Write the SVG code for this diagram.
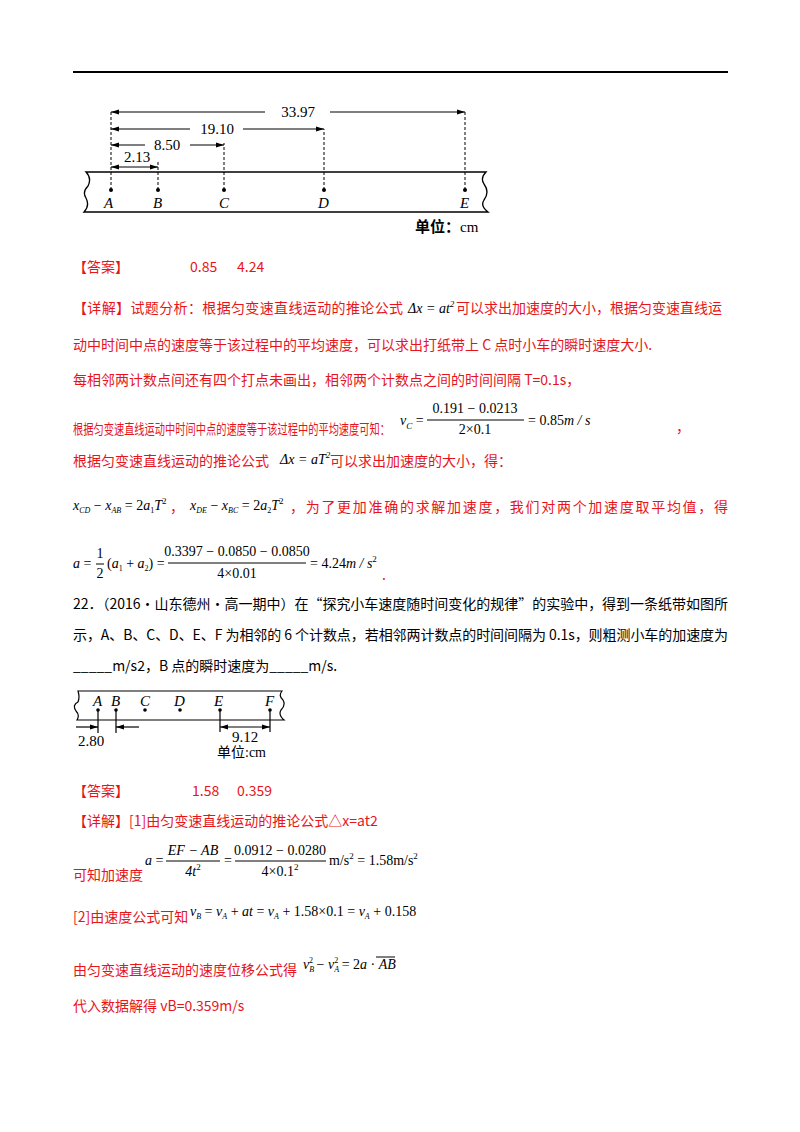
<svg xmlns="http://www.w3.org/2000/svg" width="800" height="1132" viewBox="0 0 800 1132">
<defs>
<marker id="ar" viewBox="0 0 10 10" refX="10" refY="5" markerWidth="7" markerHeight="7" orient="auto-start-reverse"><path d="M0,2 L10,5 L0,8 z" fill="#000"/></marker>
<style>
.r{fill:#e8141b;font-family:"Noto Sans CJK SC","Noto Sans",sans-serif;font-size:14px}
.m{fill:#000;font-family:"Liberation Serif",serif;font-size:14px}
.mi{fill:#000;font-family:"Liberation Serif",serif;font-size:14px;font-style:italic}
.k{fill:#000;font-family:"Noto Sans CJK SC",sans-serif;font-size:14px}
.dim{stroke:#000;stroke-width:1.2;fill:none}
.dash{stroke:#000;stroke-width:1;stroke-dasharray:3,2;fill:none}
.lab{font-family:"Liberation Serif",serif;font-size:15px;font-style:italic}
.num{font-family:"Liberation Serif",serif;font-size:15px}
</style>
</defs>
<rect width="800" height="1132" fill="#fff"/>
<line x1="73" y1="72" x2="728" y2="72" stroke="#000" stroke-width="2"/>

<g id="tape1">
<path d="M86,172 H486 Q480,178 484,184 Q490,192 484,200 Q480,206 488,212 H84 Q90,206 86,198 Q82,192 88,186 Q92,178 86,172 Z" fill="#fff" stroke="#000" stroke-width="1.3"/>
<g fill="#000"><circle cx="111" cy="190" r="2"/><circle cx="158" cy="190" r="2"/><circle cx="224" cy="190" r="2"/><circle cx="324" cy="190" r="2"/><circle cx="465" cy="190" r="2"/></g>
<path class="dash" d="M111,190 V110 M158,190 V162 M224,190 V143 M324,190 V129 M465,190 V111"/>
<g class="lab"><text x="104" y="208">A</text><text x="153" y="208">B</text><text x="219" y="208">C</text><text x="318" y="208">D</text><text x="460" y="208">E</text></g>
<g class="dim">
<line x1="111" y1="112" x2="265" y2="112" marker-start="url(#ar)"/><line x1="330" y1="112" x2="465" y2="112" marker-end="url(#ar)"/>
<line x1="111" y1="129" x2="190" y2="129" marker-start="url(#ar)"/><line x1="243" y1="129" x2="324" y2="129" marker-end="url(#ar)"/>
<line x1="111" y1="145" x2="145" y2="145" marker-start="url(#ar)"/><line x1="190" y1="145" x2="224" y2="145" marker-end="url(#ar)"/>
<line x1="111" y1="167" x2="158" y2="167" marker-start="url(#ar)" marker-end="url(#ar)"/>
</g>
<g class="num"><text x="298" y="117" text-anchor="middle">33.97</text><text x="217" y="134" text-anchor="middle">19.10</text><text x="167" y="150" text-anchor="middle">8.50</text><text x="137" y="162" text-anchor="middle">2.13</text></g>
<text x="415" y="232" font-family="Noto Sans CJK SC,serif" font-size="15" font-weight="bold">单位：<tspan font-family="Liberation Serif" font-weight="normal">cm</tspan></text>
</g>

<text class="r" x="73" y="272">【答案】</text>
<text class="r" x="190" y="272" font-family="Noto Sans">0.85</text>
<text class="r" x="237" y="272" font-family="Noto Sans">4.24</text>

<text class="r" x="73" y="313" textLength="330">【详解】试题分析：根据匀变速直线运动的推论公式</text>
<text class="mi" x="408" y="313">Δx = at<tspan font-size="9" dy="-6">2</tspan></text>
<text class="r" x="456" y="313">可以求出加速度的大小，根据匀变速直线运</text>
<text class="r" x="73" y="350">动中时间中点的速度等于该过程中的平均速度，可以求出打纸带上 C 点时小车的瞬时速度大小.</text>
<text class="r" x="73" y="385">每相邻两计数点间还有四个打点未画出，相邻两个计数点之间的时间间隔 T=0.1s，</text>

<text class="r" x="73" y="434" textLength="317" lengthAdjust="spacingAndGlyphs">根据匀变速直线运动中时间中点的速度等于该过程中的平均速度可知：</text>
<text class="mi" x="400" y="425">v<tspan font-size="9" dy="4">C</tspan><tspan dy="-4" font-style="normal"> =</tspan></text>
<line x1="427" y1="420" x2="524" y2="420" stroke="#000"/>
<text class="m" x="475" y="413" text-anchor="middle">0.191 − 0.0213</text>
<text class="m" x="475" y="434" text-anchor="middle">2×0.1</text>
<text class="m" x="528" y="425">= 0.85<tspan font-style="italic">m / s</tspan></text>
<text class="r" x="676" y="432">，</text>

<text class="r" x="73" y="466">根据匀变速直线运动的推论公式</text>
<text class="mi" x="280" y="464">Δx = aT<tspan font-size="9" dy="-6">2</tspan></text>
<text class="r" x="330" y="466">可以求出加速度的大小，得：</text>

<text class="mi" x="73" y="510">x<tspan font-size="8" dy="3">CD</tspan><tspan dy="-3" font-style="normal"> − </tspan>x<tspan font-size="8" dy="3">AB</tspan><tspan dy="-3" font-style="normal"> = 2</tspan>a<tspan font-size="8" dy="3" font-style="normal">1</tspan><tspan dy="-3">T</tspan><tspan font-size="9" dy="-6" font-style="normal">2</tspan></text>
<text class="r" x="170" y="512">，</text>
<text class="mi" x="190" y="510">x<tspan font-size="8" dy="3">DE</tspan><tspan dy="-3" font-style="normal"> − </tspan>x<tspan font-size="8" dy="3">BC</tspan><tspan dy="-3" font-style="normal"> = 2</tspan>a<tspan font-size="8" dy="3" font-style="normal">2</tspan><tspan dy="-3">T</tspan><tspan font-size="9" dy="-6" font-style="normal">2</tspan></text>
<text class="r" x="290" y="512" textLength="438">，为了更加准确的求解加速度，我们对两个加速度取平均值，得</text>

<text class="mi" x="73" y="568">a<tspan font-style="normal"> = </tspan></text>
<line x1="96" y1="564" x2="104" y2="564" stroke="#000"/>
<text class="m" x="100" y="558" text-anchor="middle">1</text>
<text class="m" x="100" y="578" text-anchor="middle">2</text>
<text class="mi" x="107" y="568"><tspan font-style="normal">(</tspan>a<tspan font-size="8" dy="3" font-style="normal">1</tspan><tspan dy="-3" font-style="normal"> + </tspan>a<tspan font-size="8" dy="3" font-style="normal">2</tspan><tspan dy="-3" font-style="normal">) =</tspan></text>
<line x1="168" y1="563" x2="306" y2="563" stroke="#000"/>
<text class="m" x="237" y="556" text-anchor="middle">0.3397 − 0.0850 − 0.0850</text>
<text class="m" x="237" y="578" text-anchor="middle">4×0.01</text>
<text class="m" x="310" y="568">= 4.24<tspan font-style="italic">m / s</tspan><tspan font-size="9" dy="-6">2</tspan></text>
<text class="r" x="382" y="580">.</text>

<text class="k" x="73" y="609" textLength="655">22．（2016·山东德州·高一期中）在“探究小车速度随时间变化的规律”的实验中，得到一条纸带如图所</text>
<text class="k" x="73" y="640" textLength="655">示，A、B、C、D、E、F 为相邻的 6 个计数点，若相邻两计数点的时间间隔为 0.1s，则粗测小车的加速度为</text>
<text class="k" x="73" y="671">_____m/s2，B 点的瞬时速度为_____m/s.</text>

<g id="tape2">
<path d="M78,691 H282 Q278,696 283,700 Q286,705 281,710 Q278,715 284,720 H77 Q80,715 76,711 Q72,705 78,702 Q80,697 78,691 Z" fill="#fff" stroke="#000" stroke-width="1.2"/>
<g fill="#000"><circle cx="98" cy="710" r="1.8"/><circle cx="116" cy="710" r="1.8"/><circle cx="145" cy="710" r="1.8"/><circle cx="180" cy="710" r="1.8"/><circle cx="220" cy="710" r="1.8"/><circle cx="270" cy="710" r="1.8"/></g>
<g class="lab"><text x="93" y="706">A</text><text x="111" y="706">B</text><text x="140" y="706">C</text><text x="174" y="706">D</text><text x="214" y="706">E</text><text x="265" y="706">F</text></g>
<path class="dim" d="M98,710 V733 M116,710 V733 M220,710 V732 M270,710 V732"/>
<line class="dim" x1="76" y1="727" x2="98" y2="727" marker-end="url(#ar)"/>
<line class="dim" x1="139" y1="727" x2="116" y2="727" marker-end="url(#ar)"/>
<line class="dim" x1="220" y1="727" x2="270" y2="727" marker-start="url(#ar)" marker-end="url(#ar)"/>
<text class="num" x="78" y="746">2.80</text>
<text class="num" x="232" y="742">9.12</text>
<text x="217" y="757" font-family="Noto Sans CJK SC,serif" font-size="14">单位<tspan font-family="Liberation Serif">:cm</tspan></text>
</g>

<text class="r" x="73" y="796">【答案】</text>
<text class="r" x="192" y="796" font-family="Noto Sans">1.58</text>
<text class="r" x="237" y="796" font-family="Noto Sans">0.359</text>

<text class="r" x="73" y="826">【详解】[1]由匀变速直线运动的推论公式△x=at2</text>

<text class="mi" x="145" y="865">a<tspan font-style="normal"> =</tspan></text>
<line x1="166" y1="861" x2="220" y2="861" stroke="#000"/>
<text class="mi" x="193" y="855" text-anchor="middle">EF − AB</text>
<text class="mi" x="193" y="876" text-anchor="middle">4t<tspan font-size="9" dy="-6" font-style="normal">2</tspan></text>
<text class="m" x="224" y="865">=</text>
<line x1="235" y1="861" x2="326" y2="861" stroke="#000"/>
<text class="m" x="280" y="855" text-anchor="middle">0.0912 − 0.0280</text>
<text class="m" x="280" y="876" text-anchor="middle">4×0.1<tspan font-size="9" dy="-6">2</tspan></text>
<text class="m" x="329" y="865">m/s<tspan font-size="9" dy="-6">2</tspan><tspan dy="6"> = 1.58m/s</tspan><tspan font-size="9" dy="-6">2</tspan></text>
<text class="r" x="73" y="880">可知加速度</text>

<text class="r" x="73" y="922">[2]由速度公式可知</text>
<text class="mi" x="190" y="916">v<tspan font-size="8" dy="3">B</tspan><tspan dy="-3" font-style="normal"> = </tspan>v<tspan font-size="8" dy="3">A</tspan><tspan dy="-3" font-style="normal"> + </tspan>at<tspan font-style="normal"> = </tspan>v<tspan font-size="8" dy="3">A</tspan><tspan dy="-3" font-style="normal"> + 1.58×0.1 = </tspan>v<tspan font-size="8" dy="3">A</tspan><tspan dy="-3" font-style="normal"> + 0.158</tspan></text>

<text class="r" x="73" y="975">由匀变速直线运动的速度位移公式得</text>
<text class="mi" x="303" y="969">v<tspan font-size="8" dy="3">B</tspan><tspan font-size="8" dx="-5" dy="-9" font-style="normal">2</tspan><tspan dy="6" font-style="normal"> − </tspan>v<tspan font-size="8" dy="3">A</tspan><tspan font-size="8" dx="-5" dy="-9" font-style="normal">2</tspan><tspan dy="6" font-style="normal"> = 2</tspan>a<tspan font-style="normal"> · </tspan>AB</text>
<line x1="376" y1="957" x2="395" y2="957" stroke="#000"/>

<text class="r" x="73" y="1011">代入数据解得 vB=0.359m/s</text>
</svg>
